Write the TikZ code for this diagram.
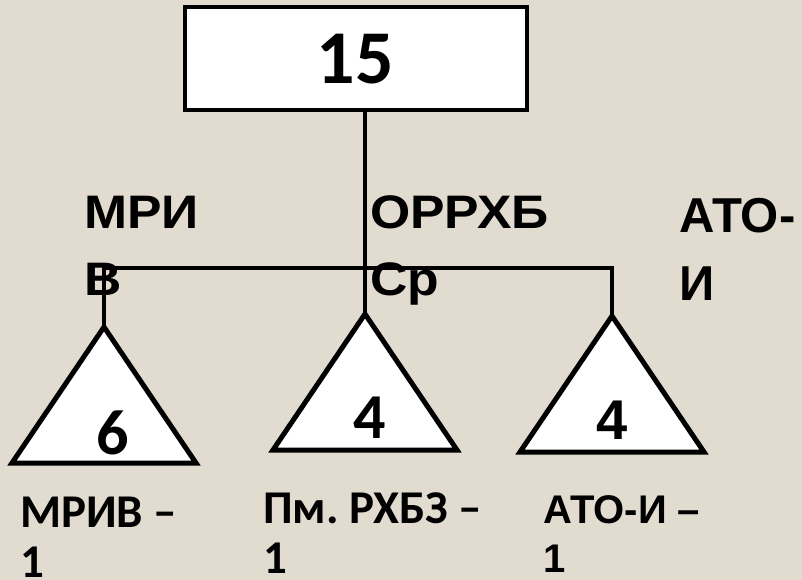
\documentclass[tikz,border=0pt]{standalone}
\usepackage{fontspec}
\setmainfont{Carlito}
\newfontfamily\arialfont{Liberation Sans}
\newfontfamily\widefont{Liberation Sans}[FakeStretch=1.1]
\usepackage{tikz}
\usetikzlibrary{calc, positioning}
\definecolor{paper}{RGB}{226,219,207}

\begin{document}
\frenchspacing
\begin{tikzpicture}[x=1pt, y=-1pt,
    wire/.style={line width=3.5pt},
    tri/.style={line width=5pt, fill=white, line join=miter},
    boss/.style={draw, line width=4pt, fill=white, minimum width=342pt, minimum height=103pt, inner sep=0pt},
    num/.style={font=\bfseries\fontsize{64}{64}\selectfont, inner sep=0pt},
    lab/.style={font=\widefont\bfseries\fontsize{47}{67}\selectfont, align=left, anchor=base west, inner sep=0pt},
    sub/.style={font=\bfseries\fontsize{47}{50}\selectfont, align=left, anchor=base west, inner sep=0pt}]
      \fill[paper] (0,0) rectangle (802,580);
      \useasboundingbox (0,0) rectangle (802,580);
      % top box
      \node[boss] (top) at (355.5,59) {\fontsize{76}{76}\selectfont\bfseries 15};
      % apexes of the triangles
      \coordinate (apexA) at (104,327);
      \coordinate (apexB) at (365,314);
      \coordinate (apexC) at (612,316);
      \coordinate (hub) at (365,268);
      \draw[wire] (top.south -| apexB) -- (apexB);
      \draw[wire] (apexA) -- (apexA |- hub) -- (apexC |- hub) -- (apexC);
      \draw[tri] (apexA) -- ++(92,136) -- ++(-184,0) -- cycle;
      \draw[tri] (apexB) -- ++(92,136) -- ++(-184,0) -- cycle;
      \draw[tri] (apexC) -- ++(92,136) -- ++(-184,0) -- cycle;
      \node[num] (numA) at (113,433) {6};
      \node[num] (numB) at (370,418) {4};
      \node[num, font=\arialfont\bfseries\fontsize{56}{56}\selectfont] (numC) at (612,420) {4};
      % labels over the lines (base = last line)
      \node[lab] (mri) at (84,295) {МРИ\\В};
      \node[lab] (orr) at (370,295) {ОРРХБ\\Ср};
      \node[lab, font=\arialfont\bfseries\fontsize{49}{68}\selectfont] (ato) at (679,300) {АТО-\\И};
      % labels under the triangles
      \node[sub] (mriv) at (20,577) {МРИВ –\\1};
      \node[sub] (pm) at (263,573) {Пм. РХБЗ –\\1};
      \node[sub, font=\arialfont\bfseries\fontsize{40}{49}\selectfont] (atoi) at (543,572) {АТО-И –\\1};
\end{tikzpicture}
\end{document}
